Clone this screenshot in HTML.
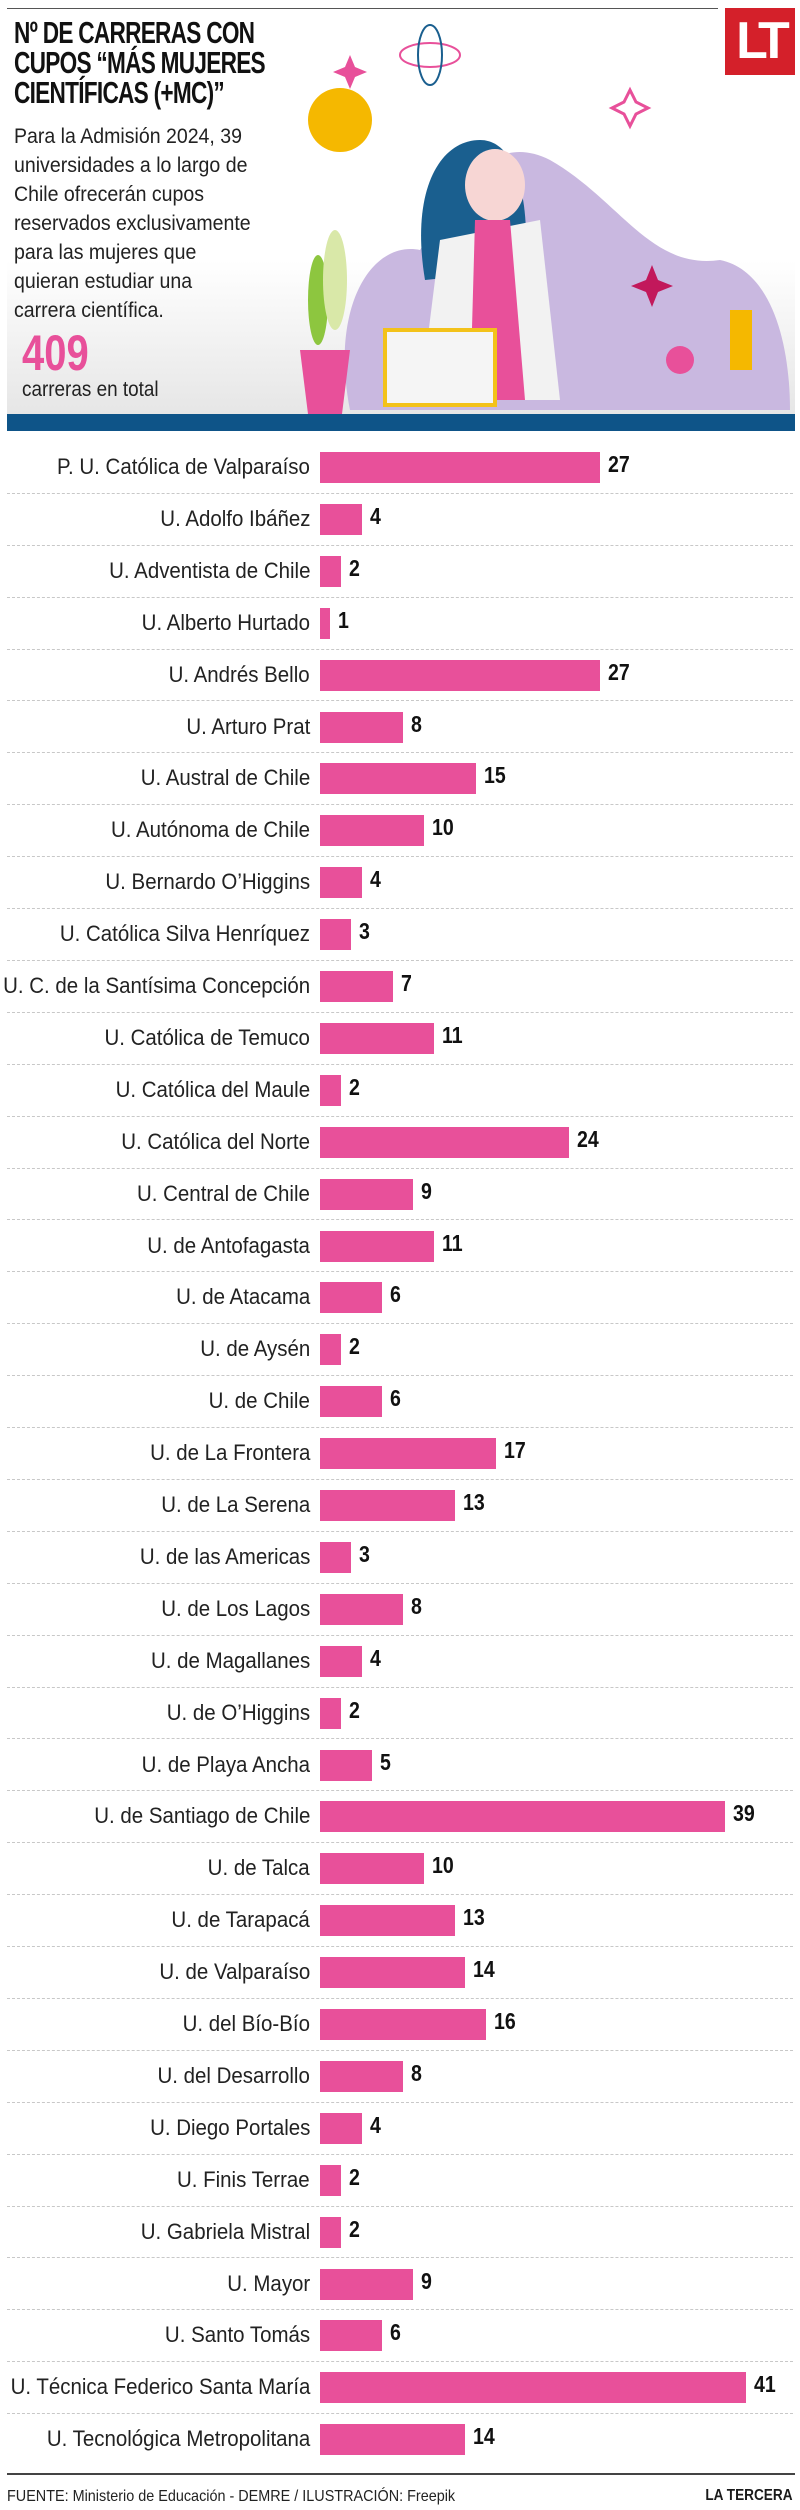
<!DOCTYPE html>
<html><head><meta charset="utf-8">
<style>
*{margin:0;padding:0;box-sizing:border-box}
body{width:800px;height:2510px;background:#fff;position:relative;overflow:hidden;font-family:"Liberation Sans",sans-serif;color:#1a1a1a}
.hdr{position:absolute;left:7px;top:8px;width:711px;height:1px;background:#555}
.hbg{position:absolute;left:7px;top:260px;width:788px;height:155px;background:linear-gradient(#fff,#e6e6e6)}
.logo{position:absolute;left:725px;top:8px;width:70px;height:67px;background:#d4202a;color:#fff;font:bold 52px "Liberation Sans",sans-serif;text-align:center;line-height:67px;letter-spacing:-6px}
.title{position:absolute;left:14px;top:18px;font:bold 31px/30px "Liberation Sans",sans-serif;letter-spacing:-1px;color:#111;transform:scaleX(0.73);transform-origin:left top;white-space:nowrap}
.body{position:absolute;left:14px;top:122px;font:21px/29px "Liberation Sans",sans-serif;color:#222;transform:scaleX(0.93);transform-origin:left top;white-space:nowrap}
.big{position:absolute;left:22px;top:328px;font:bold 50px/50px "Liberation Sans",sans-serif;color:#e8509a;transform:scaleX(0.8);transform-origin:left top}
.tot{position:absolute;left:22px;top:378px;font:21px "Liberation Sans",sans-serif;color:#222;transform:scaleX(0.9);transform-origin:left top}
.band{position:absolute;left:7px;top:414px;width:788px;height:17px;background:#0e5488}
.row{position:absolute;left:7px;width:786px;height:51.9px;border-bottom:1px dashed #c8c8c8}
.lab{position:absolute;right:483px;top:12px;font:22px "Liberation Sans",sans-serif;white-space:nowrap;color:#222;transform:scaleX(0.93);transform-origin:right top}
.bar{position:absolute;left:313px;top:10px;height:31px;background:#e8509a}
.val{position:absolute;top:9px;font:bold 23px "Liberation Sans",sans-serif;color:#111;transform:scaleX(0.85);transform-origin:left top}
.rule{position:absolute;left:7px;top:2473px;width:788px;height:2px;background:#444}
.src{position:absolute;left:7px;top:2488px;font:16px "Liberation Sans",sans-serif;color:#222;transform:scaleX(0.9);transform-origin:left top;white-space:nowrap}
.lt{position:absolute;right:7px;top:2487px;font:bold 16px "Liberation Sans",sans-serif;transform:scaleX(0.85);transform-origin:right top}
</style></head><body>
<div class="hbg"></div>
<div class="hdr"></div>
<svg style="position:absolute;left:290px;top:10px" width="505" height="404">
<path d="M60 400 C40 300 80 230 130 240 C170 180 200 120 260 150 C330 190 360 260 430 250 C480 260 500 330 500 400Z" fill="#c9b8e0"/>
<path d="M135 270 C120 180 150 130 190 130 C230 130 240 200 235 260 Z" fill="#1a5f8f"/>
<ellipse cx="205" cy="175" rx="30" ry="36" fill="#f7d6d4"/>
<path d="M150 230 L250 210 L270 390 L130 390Z" fill="#f2f2f2"/>
<path d="M185 210 L220 210 L235 390 L180 390Z" fill="#e8509a"/>
<rect x="95" y="320" width="110" height="75" fill="#f5f5f5" stroke="#f3c21a" stroke-width="4"/>
<path d="M10 340 L60 340 L52 404 L18 404Z" fill="#e8509a"/>
<ellipse cx="28" cy="290" rx="10" ry="45" fill="#8dc63f"/>
<ellipse cx="45" cy="270" rx="12" ry="50" fill="#d9e8a8"/>
<circle cx="50" cy="110" r="32" fill="#f5b800"/>
<circle cx="390" cy="350" r="14" fill="#e8509a"/>
<rect x="440" y="300" width="22" height="60" fill="#f5b800"/>
<path d="M340 80 l6 12 12 6-12 6-6 12-6-12-12-6 12-6z" fill="none" stroke="#e8509a" stroke-width="3"/>
<path d="M60 45 l5 12 12 5-12 5-5 12-5-12-12-5 12-5z" fill="#e8509a"/>
<path d="M362 255 l6 15 15 6-15 6-6 15-6-15-15-6 15-6z" fill="#c2185b"/>
<ellipse cx="140" cy="45" rx="30" ry="12" fill="none" stroke="#e8509a" stroke-width="2"/>
<ellipse cx="140" cy="45" rx="12" ry="30" fill="none" stroke="#1a5f8f" stroke-width="2"/>
</svg>
<div class="logo">LT</div>
<div class="title">Nº DE CARRERAS CON<br>CUPOS “MÁS MUJERES<br>CIENTÍFICAS (+MC)”</div>
<div class="body">Para la Admisión 2024, 39<br>universidades a lo largo de<br>Chile ofrecerán cupos<br>reservados exclusivamente<br>para las mujeres que<br>quieran estudiar una<br>carrera científica.</div>
<div class="big">409</div>
<div class="tot">carreras en total</div>
<div class="band"></div>
<div>
<div class="row" style="top:442px"><span class="lab">P. U. Católica de Valparaíso</span><div class="bar" style="width:280px"></div><span class="val" style="left:601px">27</span></div>
<div class="row" style="top:493.9px"><span class="lab">U. Adolfo Ibáñez</span><div class="bar" style="width:42px"></div><span class="val" style="left:363px">4</span></div>
<div class="row" style="top:545.8px"><span class="lab">U. Adventista de Chile</span><div class="bar" style="width:21px"></div><span class="val" style="left:342px">2</span></div>
<div class="row" style="top:597.7px"><span class="lab">U. Alberto Hurtado</span><div class="bar" style="width:10px"></div><span class="val" style="left:331px">1</span></div>
<div class="row" style="top:649.6px"><span class="lab">U. Andrés Bello</span><div class="bar" style="width:280px"></div><span class="val" style="left:601px">27</span></div>
<div class="row" style="top:701.5px"><span class="lab">U. Arturo Prat</span><div class="bar" style="width:83px"></div><span class="val" style="left:404px">8</span></div>
<div class="row" style="top:753.4px"><span class="lab">U. Austral de Chile</span><div class="bar" style="width:156px"></div><span class="val" style="left:477px">15</span></div>
<div class="row" style="top:805.3px"><span class="lab">U. Autónoma de Chile</span><div class="bar" style="width:104px"></div><span class="val" style="left:425px">10</span></div>
<div class="row" style="top:857.2px"><span class="lab">U. Bernardo O’Higgins</span><div class="bar" style="width:42px"></div><span class="val" style="left:363px">4</span></div>
<div class="row" style="top:909.1px"><span class="lab">U. Católica Silva Henríquez</span><div class="bar" style="width:31px"></div><span class="val" style="left:352px">3</span></div>
<div class="row" style="top:961px"><span class="lab">U. C. de la Santísima Concepción</span><div class="bar" style="width:73px"></div><span class="val" style="left:394px">7</span></div>
<div class="row" style="top:1012.9px"><span class="lab">U. Católica de Temuco</span><div class="bar" style="width:114px"></div><span class="val" style="left:435px">11</span></div>
<div class="row" style="top:1064.8px"><span class="lab">U. Católica del Maule</span><div class="bar" style="width:21px"></div><span class="val" style="left:342px">2</span></div>
<div class="row" style="top:1116.7px"><span class="lab">U. Católica del Norte</span><div class="bar" style="width:249px"></div><span class="val" style="left:570px">24</span></div>
<div class="row" style="top:1168.6px"><span class="lab">U. Central de Chile</span><div class="bar" style="width:93px"></div><span class="val" style="left:414px">9</span></div>
<div class="row" style="top:1220.5px"><span class="lab">U. de Antofagasta</span><div class="bar" style="width:114px"></div><span class="val" style="left:435px">11</span></div>
<div class="row" style="top:1272.4px"><span class="lab">U. de Atacama</span><div class="bar" style="width:62px"></div><span class="val" style="left:383px">6</span></div>
<div class="row" style="top:1324.3px"><span class="lab">U. de Aysén</span><div class="bar" style="width:21px"></div><span class="val" style="left:342px">2</span></div>
<div class="row" style="top:1376.2px"><span class="lab">U. de Chile</span><div class="bar" style="width:62px"></div><span class="val" style="left:383px">6</span></div>
<div class="row" style="top:1428.1px"><span class="lab">U. de La Frontera</span><div class="bar" style="width:176px"></div><span class="val" style="left:497px">17</span></div>
<div class="row" style="top:1480px"><span class="lab">U. de La Serena</span><div class="bar" style="width:135px"></div><span class="val" style="left:456px">13</span></div>
<div class="row" style="top:1531.9px"><span class="lab">U. de las Americas</span><div class="bar" style="width:31px"></div><span class="val" style="left:352px">3</span></div>
<div class="row" style="top:1583.8px"><span class="lab">U. de Los Lagos</span><div class="bar" style="width:83px"></div><span class="val" style="left:404px">8</span></div>
<div class="row" style="top:1635.7px"><span class="lab">U. de Magallanes</span><div class="bar" style="width:42px"></div><span class="val" style="left:363px">4</span></div>
<div class="row" style="top:1687.6px"><span class="lab">U. de O’Higgins</span><div class="bar" style="width:21px"></div><span class="val" style="left:342px">2</span></div>
<div class="row" style="top:1739.5px"><span class="lab">U. de Playa Ancha</span><div class="bar" style="width:52px"></div><span class="val" style="left:373px">5</span></div>
<div class="row" style="top:1791.4px"><span class="lab">U. de Santiago de Chile</span><div class="bar" style="width:405px"></div><span class="val" style="left:726px">39</span></div>
<div class="row" style="top:1843.3px"><span class="lab">U. de Talca</span><div class="bar" style="width:104px"></div><span class="val" style="left:425px">10</span></div>
<div class="row" style="top:1895.2px"><span class="lab">U. de Tarapacá</span><div class="bar" style="width:135px"></div><span class="val" style="left:456px">13</span></div>
<div class="row" style="top:1947.1px"><span class="lab">U. de Valparaíso</span><div class="bar" style="width:145px"></div><span class="val" style="left:466px">14</span></div>
<div class="row" style="top:1999px"><span class="lab">U. del Bío-Bío</span><div class="bar" style="width:166px"></div><span class="val" style="left:487px">16</span></div>
<div class="row" style="top:2050.9px"><span class="lab">U. del Desarrollo</span><div class="bar" style="width:83px"></div><span class="val" style="left:404px">8</span></div>
<div class="row" style="top:2102.8px"><span class="lab">U. Diego Portales</span><div class="bar" style="width:42px"></div><span class="val" style="left:363px">4</span></div>
<div class="row" style="top:2154.7px"><span class="lab">U. Finis Terrae</span><div class="bar" style="width:21px"></div><span class="val" style="left:342px">2</span></div>
<div class="row" style="top:2206.6px"><span class="lab">U. Gabriela Mistral</span><div class="bar" style="width:21px"></div><span class="val" style="left:342px">2</span></div>
<div class="row" style="top:2258.5px"><span class="lab">U. Mayor</span><div class="bar" style="width:93px"></div><span class="val" style="left:414px">9</span></div>
<div class="row" style="top:2310.4px"><span class="lab">U. Santo Tomás</span><div class="bar" style="width:62px"></div><span class="val" style="left:383px">6</span></div>
<div class="row" style="top:2362.3px"><span class="lab">U. Técnica Federico Santa María</span><div class="bar" style="width:426px"></div><span class="val" style="left:747px">41</span></div>
<div class="row" style="top:2414.2px;border-bottom:none"><span class="lab">U. Tecnológica Metropolitana</span><div class="bar" style="width:145px"></div><span class="val" style="left:466px">14</span></div>
</div>
<div class="rule"></div>
<div class="src">FUENTE: Ministerio de Educación - DEMRE / ILUSTRACIÓN: Freepik</div>
<div class="lt">LA TERCERA</div>
</body></html>
